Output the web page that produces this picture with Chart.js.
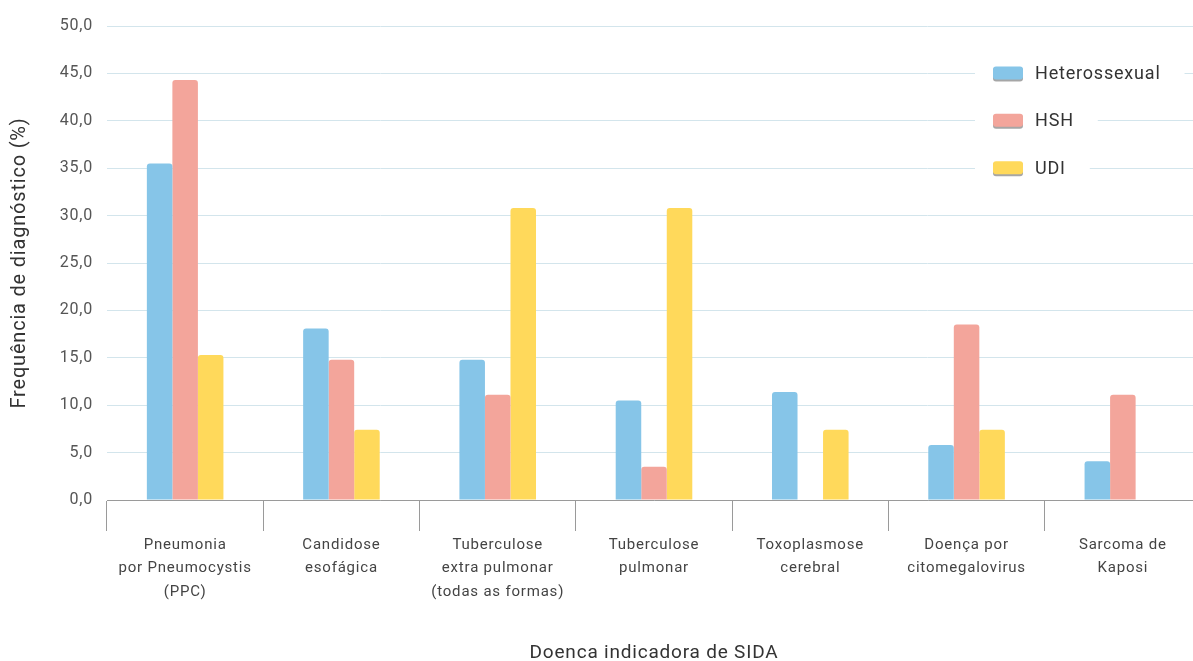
<!DOCTYPE html>
<html>
<head>
<meta charset="utf-8">
<script src="https://cdn.jsdelivr.net/npm/chart.js@4"></script>
<style>
html,body{margin:0;padding:0;background:#fff;overflow:hidden;}
#wrap{width:1193px;height:661px;position:relative;overflow:hidden;}
canvas{display:block;}
</style>
</head>
<body>
<div id="wrap"><canvas id="c" width="1201" height="661"></canvas></div>
<script>
const categories = [
  ["Pneumonia", "por Pneumocystis", "(PPC)"],
  ["Candidose", "esofágica"],
  ["Tuberculose", "extra pulmonar", "(todas as formas)"],
  ["Tuberculose", "pulmonar"],
  ["Toxoplasmose", "cerebral"],
  ["Doença por", "citomegalovirus"],
  ["Sarcoma de", "Kaposi"]
];
const seriesNames = ["Heterossexual", "HSH", "UDI"];
const heterossexual = [35.5, 18.1, 14.8, 10.5, 11.4, 5.8, 4.1];
const hsh = [44.3, 14.8, 11.1, 3.5, null, 18.5, 11.1];
const udi = [15.3, 7.4, 30.8, 30.8, 7.4, 7.4, null];
const seriesColors = ["#86c5e8", "#f3a59b", "#ffd95b"];
const yTicks = [0, 5, 10, 15, 20, 25, 30, 35, 40, 45, 50];
const legendAnchors = [45, 40, 35];

const FONT = "Roboto, 'Liberation Sans', sans-serif";
const SPACING = '0.8px';

const spacingPlugin = {
  id: 'spacing',
  beforeInit(chart) { chart.ctx.letterSpacing = SPACING; },
  beforeLayout(chart) { chart.ctx.letterSpacing = SPACING; },
  beforeDraw(chart) { chart.ctx.letterSpacing = SPACING; }
};

const legendPlugin = {
  id: 'customLegend',
  afterDraw(chart) {
    const ctx = chart.ctx;
    const y = chart.scales.y;
    ctx.save();
    ctx.letterSpacing = SPACING;
    ctx.font = "18px " + FONT;
    seriesNames.forEach((name, i) => {
      const cy = y.getPixelForValue(legendAnchors[i]);
      const boxX = 993, textX = 1035;
      const tw = ctx.measureText(name).width;
      ctx.fillStyle = '#ffffff';
      ctx.fillRect(975, cy - 14, (textX + tw + 24) - 975, 28);
      ctx.fillStyle = 'rgba(0,0,0,0.35)';
      roundRect(ctx, boxX, cy - 7 + 1, 30, 14, 3);
      ctx.fill();
      ctx.fillStyle = seriesColors[i];
      roundRect(ctx, boxX, cy - 7, 30, 13, 3);
      ctx.fill();
      ctx.fillStyle = '#333333';
      ctx.textBaseline = 'middle';
      ctx.textAlign = 'left';
      ctx.fillText(name, textX, cy + 1);
    });
    ctx.restore();
  }
};
function roundRect(ctx, x, y, w, h, r) {
  ctx.beginPath();
  ctx.moveTo(x + r, y);
  ctx.lineTo(x + w - r, y);
  ctx.quadraticCurveTo(x + w, y, x + w, y + r);
  ctx.lineTo(x + w, y + h - r);
  ctx.quadraticCurveTo(x + w, y + h, x + w - r, y + h);
  ctx.lineTo(x + r, y + h);
  ctx.quadraticCurveTo(x, y + h, x, y + h - r);
  ctx.lineTo(x, y + r);
  ctx.quadraticCurveTo(x, y, x + r, y);
  ctx.closePath();
}

const data = {
  labels: categories,
  datasets: [heterossexual, hsh, udi].map((vals, i) => ({
    label: seriesNames[i],
    data: vals,
    backgroundColor: seriesColors[i],
    borderWidth: 0,
    borderRadius: {topLeft: 3, topRight: 3, bottomLeft: 0, bottomRight: 0},
    borderSkipped: 'bottom',
    categoryPercentage: 0.49,
    barPercentage: 1.0
  }))
};

new Chart(document.getElementById('c'), {
  type: 'bar',
  data: data,
  options: {
    responsive: false,
    animation: false,
    devicePixelRatio: 1,
    layout: {padding: {top: 26, right: 0, bottom: 0, left: 0}},
    plugins: {
      legend: {display: false},
      tooltip: {enabled: false}
    },
    scales: {
      x: {
        offset: true,
        grid: {
          offset: true,
          drawOnChartArea: false,
          drawTicks: true,
          tickLength: 31,
          color: '#9a9a9a',
          lineWidth: 1
        },
        border: {display: true, color: '#9a9a9a', width: 1},
        ticks: {
          font: {family: FONT, size: 15, lineHeight: 1.57},
          color: '#444444',
          padding: 2,
          maxRotation: 0,
          autoSkip: false
        },
        title: {
          display: true,
          text: 'Doenca indicadora de SIDA',
          font: {family: FONT, size: 19, lineHeight: 0.85},
          color: '#333333',
          padding: {top: 0, bottom: 0}
        },
        afterFit(scale) { scale.height = 161; }
      },
      y: {
        min: 0,
        max: 50,
        afterBuildTicks(scale) { scale.ticks = yTicks.map(v => ({value: v})); },
        grid: {
          color: '#d3e5ec',
          lineWidth: 1,
          drawTicks: false,
          tickLength: 0
        },
        border: {display: false},
        ticks: {
          font: {family: FONT, size: 16},
          color: '#555555',
          padding: 14,
          callback: (v) => Number(v).toFixed(1).replace('.', ',')
        },
        title: {
          display: true,
          text: 'Frequência de diagnóstico (%)',
          font: {family: FONT, size: 20, lineHeight: 2.0},
          color: '#333333',
          padding: {top: 0, bottom: 0}
        },
        afterFit(scale) { scale.width = 107; }
      }
    }
  },
  plugins: [spacingPlugin, legendPlugin]
});
</script>
</body>
</html>
